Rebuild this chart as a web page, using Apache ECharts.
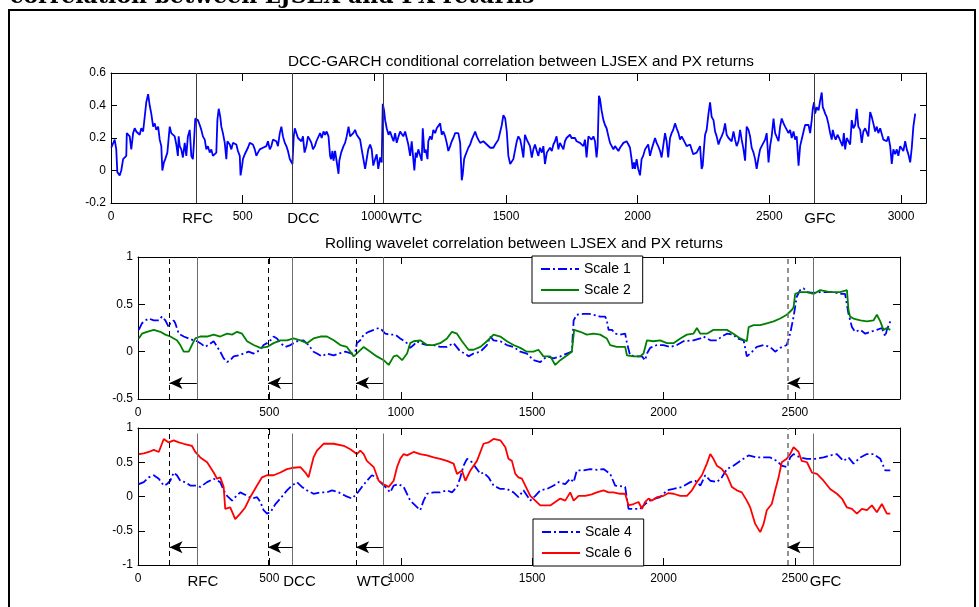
<!DOCTYPE html>
<html><head><meta charset="utf-8">
<script src="https://cdn.jsdelivr.net/npm/echarts@6/dist/echarts.min.js"></script>
<style>html,body{margin:0;padding:0;background:#fff}#c{width:979px;height:607px}</style>
</head><body><div id="c"></div>
<script>
// ---------------- DATA ----------------
const crisisNames = ['RFC', 'DCC', 'WTC', 'GFC'];
const dccBreaks = [325, 689, 1034, 2670];      // crisis lines, DCC-GARCH panel
const waveBreaks = [224, 588, 932, 2571];      // crisis lines, wavelet panels
const waveLeads = [120, 495, 830, 2472];       // leading (dashed) lines, wavelet panels
const arrowLevelMid = -0.33;
const arrowLevelBot = -0.74;
const solidTopBot = 0.92;

const dccCorr = [
[1,.14],[14,.19],[20,.13],[24,-.01],[33,-.03],[39,.00],[46,.07],[52,.08],[58,.09],[60,.23],[65,.23],[71,.21],[77,.13],[84,.23],[90,.26],[96,.24],[103,.25],[109,.22],[115,.26],[122,.24],[128,.23],[134,.42],[141,.47],[147,.40],[153,.35],[160,.27],[166,.29],[172,.25],[179,.27],[185,.19],[191,.15],[195,.00],[201,.05],[206,.07],[214,.11],[223,.27],[229,.23],[235,.23],[242,.21],[248,.16],[254,.09],[257,.21],[261,.15],[267,.13],[273,.08],[280,.17],[286,.09],[292,.21],[299,.25],[305,.09],[311,.07],[315,.17],[320,.32],[324,.33],[330,.31],[337,.28],[343,.25],[349,.21],[356,.19],[362,.13],[368,.15],[375,.11],[381,.13],[387,.09],[394,.08],[400,.11],[404,.31],[409,.38],[415,.33],[419,.27],[425,.23],[432,.17],[438,.07],[442,.18],[451,.16],[457,.13],[463,.17],[470,.18],[476,.16],[482,.12],[489,.09],[492,-.03],[498,.03],[501,.07],[508,.10],[514,.12],[520,.14],[527,.17],[533,.18],[539,.16],[546,.13],[552,.09],[558,.11],[565,.13],[571,.12],[577,.14],[584,.15],[590,.15],[596,.18],[603,.13],[609,.15],[615,.19],[622,.20],[628,.18],[634,.15],[641,.23],[647,.27],[653,.21],[660,.17],[666,.15],[672,.12],[679,.07],[685,.08],[689,.04],[694,.21],[698,.26],[704,.23],[710,.20],[717,.21],[723,.18],[729,.21],[735,.11],[742,.15],[748,.21],[755,.19],[761,.17],[767,.13],[774,.15],[780,.18],[786,.17],
[794,.23],[800,.20],[807,.24],[813,.22],[819,.24],[826,.21],[832,.09],[836,.07],[841,.12],[845,.06],[851,.12],[857,.13],[864,-.02],[867,.06],[874,.11],[883,.15],[889,.17],[895,.21],[902,.27],[908,.21],[914,.20],[920,.23],[927,.25],[933,.22],[940,.21],[946,.19],[952,.13],[958,.12],[965,.01],[971,.07],[977,.13],[984,.16],[990,.13],[996,.03],[1003,.07],[1009,.10],[1015,.01],[1022,.08],[1028,.05],[1032,.41],[1037,.37],[1041,.31],[1047,.26],[1054,.22],[1060,.24],[1066,.21],[1073,.18],[1079,.23],[1085,.17],[1092,.21],[1098,.24],[1104,.23],[1110,.21],[1117,.24],[1123,.23],[1129,.16],[1136,.09],[1142,.18],[1148,.07],[1152,.00],[1157,.11],[1161,.08],[1167,.13],[1174,.14],[1180,.06],[1184,.26],[1190,.11],[1195,.13],[1202,.07],[1205,.18],[1212,.21],[1218,.19],[1224,.25],[1231,.23],[1237,.26],[1243,.27],[1250,.29],[1256,.22],[1262,.24],[1269,.21],[1275,.17],[1281,.12],[1288,.15],[1294,.18],[1300,.20],[1307,.23],[1313,.22],[1319,.23],[1326,.17],[1332,-.06],[1336,-.02],[1341,.07],[1345,.09],[1351,.10],[1357,.14],[1364,.16],[1370,.19],[1376,.18],[1383,.24],[1389,.21],[1395,.19],[1402,.17],[1408,.18],[1414,.18],[1421,.17],[1427,.16],[1433,.15],[1440,.14],[1446,.13],[1452,.14],[1459,.16],[1465,.15],[1471,.19],[1478,.20],[1484,.28],[1490,.34],[1497,.32],[1503,.24],[1509,.09],[1516,.04],[1522,.05],[1528,.07],[1535,.13],[1541,.18],[1547,.21],[1554,.19],
[1559,.15],[1566,.08],[1572,.22],[1579,.19],[1585,.20],[1591,.15],[1598,.08],[1604,.13],[1610,.16],[1617,.12],[1623,.09],[1629,.14],[1636,.11],[1642,.15],[1648,.04],[1655,.11],[1661,.10],[1667,.14],[1674,.12],[1680,.16],[1686,.18],[1692,.21],[1699,.13],[1705,.17],[1711,.16],[1718,.13],[1724,.18],[1730,.20],[1737,.19],[1743,.22],[1749,.20],[1756,.19],[1762,.20],[1768,.18],[1775,.19],[1781,.17],[1787,.18],[1794,.15],[1800,.19],[1806,.08],[1813,.21],[1819,.20],[1825,.19],[1832,.21],[1838,.18],[1844,.08],[1848,.15],[1853,.46],[1857,.44],[1863,.37],[1870,.31],[1876,.28],[1882,.26],[1889,.21],[1895,.17],[1901,.18],[1908,.13],[1914,.15],[1920,.14],[1927,.12],[1933,.14],[1939,.15],[1946,.17],[1952,.16],[1958,.18],[1965,.16],[1971,.14],[1977,.07],[1981,.01],[1986,.05],[1990,.01],[1996,.07],[2002,.01],[2009,-.03],[2015,.07],[2021,.09],[2028,.13],[2034,.14],[2040,.16],[2047,.09],[2053,.13],[2059,.14],[2066,.20],[2072,.17],[2078,.15],[2085,.12],[2091,.08],[2097,.15],[2104,.23],[2110,.18],[2116,.08],[2123,.20],[2129,.23],[2135,.25],[2142,.29],[2148,.26],[2155,.23],[2161,.19],[2167,.21],[2174,.21],[2180,.17],[2186,.15],[2193,.16],[2199,.16],[2205,.15],[2211,.10],[2218,.09],[2224,.11],[2230,.11],[2237,.15],[2243,.01],[2247,.03],[2252,.14],[2256,.22],[2262,.25],[2269,.35],[2275,.42],[2281,.33],[2288,.31],[2294,.24],[2300,.21],[2307,.16],[2313,.19],[2319,.21],[2326,.24],[2332,.29],[2338,.22],[2345,.20],[2351,.19],
[2357,.18],[2364,.24],[2370,.19],[2376,.15],[2383,.18],[2389,.25],[2395,.19],[2402,.13],[2408,.06],[2414,.27],[2421,.25],[2427,.21],[2433,.14],[2440,.11],[2446,.07],[2452,.01],[2459,.08],[2465,.13],[2471,.15],[2478,.16],[2484,.19],[2490,.23],[2497,.05],[2503,.15],[2509,.21],[2516,.32],[2522,.23],[2528,.22],[2535,.18],[2541,.27],[2547,.32],[2554,.29],[2560,.27],[2566,.28],[2573,.23],[2579,.25],[2585,.20],[2592,.24],[2598,.19],[2604,.21],[2611,.03],[2617,.15],[2623,.16],[2630,.24],[2636,.28],[2642,.27],[2649,.28],[2655,.23],[2661,.31],[2665,.38],[2670,.42],[2674,.35],[2680,.39],[2687,.37],[2693,.43],[2699,.48],[2703,.39],[2708,.37],[2712,.35],[2718,.33],[2724,.29],[2731,.23],[2737,.19],[2741,.25],[2747,.21],[2752,.19],[2759,.22],[2765,.20],[2771,.19],[2778,.15],[2783,.23],[2788,.13],[2794,.20],[2800,.19],[2807,.16],[2813,.31],[2819,.26],[2826,.28],[2832,.38],[2838,.27],[2845,.25],[2851,.17],[2857,.24],[2864,.26],[2870,.25],[2876,.21],[2883,.36],[2889,.33],[2895,.29],[2902,.24],[2908,.27],[2914,.23],[2921,.26],[2927,.25],[2933,.19],[2940,.20],[2946,.18],[2952,.21],[2959,.15],[2965,.04],[2971,.13],[2978,.10],[2984,.13],[2990,.09],[2997,.15],[3003,.14],[3009,.12],[3016,.18],[3022,.13],[3028,.10],[3035,.05],[3041,.14],[3047,.27],[3054,.35]
];

const scale1 = [
[3,.23],[15,.30],[28,.33],[41,.35],[60,.33],[79,.33],[91,.37],[104,.33],[117,.26],[123,.30],[136,.33],[142,.30],[155,.19],[174,.16],[193,.14],[212,.12],[225,.11],[237,.09],[256,.05],[288,.11],[313,.00],[326,-.07],[339,-.11],[351,-.09],[364,-.05],[383,-.04],[402,-.02],[421,.00],[440,-.02],[466,.02],[478,.07],[491,.09],[504,.12],[516,.16],[529,.14],[542,.09],[561,.05],[580,.07],[605,.11],[630,.12],[649,.07],[668,.00],[681,-.02],[700,-.05],[719,-.02],[745,-.04],[764,-.02],[789,.00],[814,-.02],[827,.00],[833,.09],[846,.12],[859,.18],[878,.21],[897,.23],[916,.25],[928,.23],[941,.19],[960,.18],[979,.18],[998,.14],[1024,.09],[1036,.04],[1049,.07],[1062,.11],[1074,.09],[1100,.07],[1125,.07],[1150,.05],[1176,.05],[1201,.09],[1227,.00],[1246,-.02],[1258,-.05],[1277,-.02],[1303,.00],[1328,.07],[1341,.16],[1353,.12],[1379,.11],[1404,.07],[1429,.05],[1455,.00],[1480,-.02],[1505,-.09],[1531,-.11],[1556,-.05],[1582,-.07],[1607,-.05],[1632,-.02],[1651,.00],[1658,.33],[1670,.39],[1696,.40],[1715,.40],[1734,.39],[1759,.37],[1778,.37],[1784,.33],[1791,.23],[1804,.23],[1816,.19],[1835,.18],[1854,.19],[1861,.09],[1873,-.04],[1899,-.05],[1918,-.05],[1930,-.09],[1937,-.02],[1949,.04],[1975,.07],[2000,.07],[2026,.05],[2051,.07],[2076,.11],[2114,.12],[2140,.14],[2152,.16],[2178,.12],[2203,.12],[2222,.16],[2241,.19],[2266,.18],[2279,.14],[2305,.12],[2317,-.05],[2330,-.02],[2355,.05],[2381,.07],[2406,.05],[2425,.00],[2444,.04],[2469,.07],[2482,.19],[2495,.37],[2507,.58],[2520,.65],[2533,.67],[2546,.63],[2571,.62],[2596,.63],[2622,.63],[2647,.63],[2672,.61],[2691,.61],[2704,.40],[2717,.26],[2729,.21],[2749,.23],[2768,.19],[2787,.21],[2812,.23],[2831,.25],[2844,.16],[2850,.23],[2863,.32]
];

const scale2 = [
[3,.14],[15,.19],[34,.21],[60,.23],[85,.21],[104,.18],[123,.16],[136,.14],[148,.12],[161,.07],[174,.00],[193,.00],[205,.07],[218,.14],[237,.16],[263,.16],[288,.18],[313,.16],[339,.19],[358,.18],[377,.21],[396,.19],[415,.11],[440,.07],[466,.04],[491,.05],[516,.09],[542,.12],[567,.12],[592,.14],[618,.12],[643,.09],[668,.14],[694,.16],[719,.16],[745,.12],[770,.07],[795,.05],[821,-.05],[840,.00],[859,.05],[884,.00],[909,-.05],[935,-.09],[954,-.14],[973,-.05],[986,-.04],[1005,-.09],[1024,-.02],[1036,.09],[1049,.11],[1074,.12],[1100,.07],[1125,.07],[1150,.09],[1176,.14],[1195,.21],[1214,.19],[1233,.11],[1258,.02],[1277,.02],[1303,.05],[1328,.11],[1353,.18],[1379,.16],[1404,.11],[1429,.07],[1455,.04],[1480,.00],[1505,.00],[1524,.02],[1531,.04],[1543,-.05],[1569,-.05],[1588,-.14],[1607,-.09],[1632,-.04],[1651,.00],[1660,.23],[1683,.21],[1708,.18],[1734,.19],[1759,.18],[1784,.14],[1797,.07],[1822,.05],[1854,.05],[1861,-.04],[1886,-.05],[1911,-.05],[1924,-.02],[1937,.12],[1962,.11],[1987,.12],[2013,.09],[2038,.09],[2064,.14],[2089,.18],[2114,.19],[2127,.25],[2140,.19],[2165,.19],[2190,.23],[2216,.23],[2241,.23],[2266,.19],[2292,.14],[2317,.11],[2324,.26],[2343,.28],[2368,.28],[2393,.30],[2419,.32],[2444,.35],[2469,.39],[2488,.44],[2495,.47],[2501,.61],[2520,.63],[2546,.63],[2571,.61],[2596,.65],[2634,.63],[2672,.63],[2698,.65],[2704,.44],[2710,.37],[2723,.35],[2749,.33],[2774,.32],[2799,.33],[2812,.39],[2825,.32],[2837,.23],[2850,.25],[2863,.23]
];

const scale4 = [
[3,.18],[22,.21],[41,.28],[60,.31],[79,.26],[98,.16],[110,.18],[123,.23],[136,.35],[148,.31],[161,.23],[180,.21],[199,.16],[218,.16],[237,.14],[263,.21],[288,.26],[313,.21],[326,.09],[339,.01],[358,-.06],[370,-.01],[389,.06],[415,.01],[434,-.03],[453,-.01],[466,-.08],[478,-.20],[491,-.25],[504,-.23],[523,-.11],[542,-.03],[567,.09],[586,.16],[605,.21],[624,.14],[643,.09],[668,.04],[694,.06],[719,.06],[738,.09],[764,.06],[789,.01],[814,-.03],[833,.04],[852,.14],[871,.23],[890,.31],[909,.28],[922,.21],[941,.14],[960,.06],[973,.16],[992,.18],[1011,.14],[1036,-.06],[1055,-.13],[1074,-.20],[1087,-.06],[1100,.04],[1125,.06],[1150,.06],[1176,.09],[1195,.06],[1214,.14],[1227,.28],[1239,.45],[1252,.55],[1271,.50],[1290,.40],[1303,.33],[1315,.35],[1334,.28],[1353,.16],[1379,.11],[1404,.11],[1429,.06],[1448,-.01],[1467,.09],[1493,-.06],[1512,.01],[1531,.09],[1556,.11],[1582,.16],[1601,.21],[1626,.18],[1645,.26],[1658,.21],[1670,.38],[1696,.38],[1721,.40],[1746,.39],[1772,.40],[1797,.33],[1816,.16],[1835,.15],[1854,.14],[1867,-.18],[1886,-.18],[1911,-.18],[1930,-.11],[1949,-.06],[1968,-.03],[1987,-.01],[2013,.09],[2038,.11],[2070,.14],[2102,.21],[2121,.23],[2140,.16],[2159,.31],[2178,.23],[2203,.21],[2222,.28],[2241,.40],[2266,.45],[2292,.52],[2324,.60],[2355,.57],[2381,.57],[2406,.57],[2431,.52],[2450,.45],[2469,.43],[2482,.57],[2495,.62],[2520,.57],[2546,.55],[2577,.55],[2609,.57],[2634,.60],[2660,.62],[2685,.52],[2704,.57],[2723,.48],[2749,.57],[2774,.62],[2799,.62],[2825,.55],[2844,.38],[2863,.38]
];

const scale6 = [
[3,.62],[22,.63],[41,.65],[60,.68],[79,.65],[98,.84],[117,.79],[136,.82],[155,.79],[174,.77],[205,.74],[218,.65],[237,.57],[263,.50],[288,.35],[301,.26],[313,.28],[326,.14],[332,-.18],[351,-.16],[370,-.33],[389,-.25],[408,-.16],[427,-.01],[453,.16],[472,.28],[491,.31],[516,.31],[542,.35],[567,.40],[592,.42],[618,.43],[637,.35],[649,.28],[668,.57],[681,.67],[706,.77],[745,.77],[783,.74],[808,.69],[833,.62],[846,.67],[859,.62],[871,.52],[897,.43],[916,.23],[935,.18],[954,.14],[973,.23],[986,.43],[998,.55],[1011,.62],[1024,.60],[1049,.65],[1074,.62],[1100,.60],[1125,.57],[1150,.55],[1176,.52],[1201,.48],[1214,.33],[1233,.38],[1246,.23],[1265,.38],[1290,.52],[1315,.77],[1334,.79],[1353,.84],[1379,.82],[1398,.72],[1410,.55],[1423,.52],[1436,.33],[1448,.28],[1461,.26],[1474,.16],[1493,.01],[1512,-.06],[1531,-.13],[1569,-.13],[1588,-.08],[1607,-.03],[1626,-.06],[1645,.06],[1658,-.06],[1677,.01],[1702,.01],[1727,.03],[1746,.06],[1772,.09],[1791,.06],[1810,.06],[1835,.04],[1854,.04],[1867,-.13],[1886,-.11],[1905,-.08],[1918,-.18],[1930,-.08],[1943,-.03],[1956,-.06],[1975,-.01],[2000,.01],[2019,.05],[2038,.04],[2064,.01],[2089,.01],[2108,.09],[2127,.21],[2146,.31],[2165,.48],[2178,.62],[2190,.55],[2203,.45],[2222,.40],[2241,.31],[2260,.14],[2279,.09],[2298,.06],[2317,-.06],[2330,-.16],[2349,-.40],[2368,-.52],[2381,-.40],[2393,-.20],[2412,-.11],[2425,.09],[2438,.28],[2450,.50],[2469,.55],[2482,.62],[2495,.72],[2501,.74],[2514,.65],[2526,.52],[2546,.50],[2565,.35],[2584,.33],[2609,.23],[2634,.11],[2660,.04],[2679,-.03],[2698,-.16],[2717,-.18],[2736,-.25],[2755,-.18],[2774,-.20],[2793,-.13],[2812,-.23],[2831,-.11],[2850,-.25],[2863,-.25]
];

// ---------------- STYLE / LAYOUT ----------------
const FONT = '"Liberation Sans", Arial, Helvetica, sans-serif';
const chart = echarts.init(document.getElementById('c'), null, {renderer: 'canvas'});

function fmtNum(v) { return String(+(+v).toFixed(2)); }

function xAxisPair(grid, max, tickLen, margin) {
  const base = {
    gridIndex: grid, type: 'value', min: 0, max: max, interval: 500,
    splitLine: {show: false},
    axisLine: {show: true, onZero: false, lineStyle: {color: '#000', width: 1}},
    axisTick: {show: true, inside: true, length: tickLen, lineStyle: {color: '#000', width: 1}}
  };
  return [
    Object.assign({}, base, {position: 'bottom',
      axisLabel: {show: true, color: '#000', fontSize: 12, fontFamily: FONT, margin: margin,
        formatter: v => (v % 500 === 0 ? String(v) : ''), showMaxLabel: false}}),
    Object.assign({}, base, {position: 'top', axisLabel: {show: false}})
  ];
}
function yAxisPair(grid, min, max, interval, tickLen) {
  const base = {
    gridIndex: grid, type: 'value', min: min, max: max, interval: interval,
    splitLine: {show: false},
    axisLine: {show: true, onZero: false, lineStyle: {color: '#000', width: 1}},
    axisTick: {show: true, inside: true, length: tickLen, lineStyle: {color: '#000', width: 1}}
  };
  return [
    Object.assign({}, base, {position: 'left',
      axisLabel: {show: true, color: '#000', fontSize: 12, fontFamily: FONT, margin: 5, formatter: fmtNum}}),
    Object.assign({}, base, {position: 'right', axisLabel: {show: false}})
  ];
}

function vLine(x, y0, y1, color, type, width) {
  return [
    {coord: [x, y0], symbol: 'none', lineStyle: {color: color, type: type, width: width}},
    {coord: [x, y1], symbol: 'none'}
  ];
}
function arrow(x0, x1, y) {
  return [
    {coord: [x0, y], symbol: 'none', lineStyle: {color: '#000', type: 'solid', width: 1}},
    {coord: [x1, y], symbol: 'arrow', symbolSize: [9, 13]}
  ];
}
function markLines(items) {
  return {silent: true, animation: false, symbol: ['none', 'none'], label: {show: false},
    emphasis: {disabled: true}, data: items};
}

const topLines = dccBreaks.map(x => vLine(x, -0.2, 0.6, '#3a3a3a', 'solid', 1));
const midLines = [].concat(
  waveBreaks.map(x => vLine(x, -0.5, 1, '#6e6e6e', 'solid', 1)),
  waveLeads.map((x, i) => vLine(x, -0.5, 1, i === 3 ? '#777' : '#000', [5, 4], i === 3 ? 1.6 : 1)),
  waveBreaks.map((x, i) => arrow(x, waveLeads[i], arrowLevelMid))
);
const botLines = [].concat(
  waveBreaks.map(x => vLine(x, -1, solidTopBot, '#6e6e6e', 'solid', 1)),
  waveLeads.map((x, i) => vLine(x, -1, 1, i === 3 ? '#777' : '#000', [5, 4], i === 3 ? 1.6 : 1)),
  waveBreaks.map((x, i) => arrow(x, waveLeads[i], arrowLevelBot))
);

const dashDot = [9, 3, 2, 3];
const legendBase = {
  orient: 'vertical', itemWidth: 38, itemHeight: 14, itemGap: 7,
  padding: [6, 12, 6, 8], borderColor: '#000', borderWidth: 1, borderRadius: 0, backgroundColor: '#fff',
  itemStyle: {color: 'rgba(0,0,0,0)', borderWidth: 0, opacity: 0},
  textStyle: {fontSize: 14, color: '#000', fontFamily: FONT}, selectedMode: false, z: 10
};

const option = {
  animation: false,
  backgroundColor: '#fff',
  title: [
    {text: 'DCC-GARCH conditional correlation between LJSEX and PX returns', left: 283, top: 49,
     textStyle: {fontSize: 15.3, fontWeight: 'normal', color: '#000', fontFamily: FONT}},
    {text: 'Rolling wavelet correlation between LJSEX and PX returns', left: 320, top: 231,
     textStyle: {fontSize: 15.3, fontWeight: 'normal', color: '#000', fontFamily: FONT}}
  ],
  grid: [
    {left: 111, top: 73, width: 815, height: 130, containLabel: false, outerBoundsMode: 'none'},
    {left: 138, top: 257, width: 762, height: 142, containLabel: false, outerBoundsMode: 'none'},
    {left: 138, top: 428, width: 762, height: 137, containLabel: false, outerBoundsMode: 'none'}
  ],
  xAxis: [].concat(xAxisPair(0, 3095, 8, 8), xAxisPair(1, 2900, 7, 7.5), xAxisPair(2, 2900, 7, 8)),
  yAxis: [].concat(yAxisPair(0, -0.2, 0.6, 0.2, 6), yAxisPair(1, -0.5, 1, 0.5, 7), yAxisPair(2, -1, 1, 0.5, 7)),
  legend: [
    Object.assign({}, legendBase, {data: ['Scale 1', 'Scale 2'], left: 532, top: 256}),
    Object.assign({}, legendBase, {data: ['Scale 4', 'Scale 6'], left: 533, top: 519})
  ],
  series: [
    {name: 'DCC', type: 'line', xAxisIndex: 0, yAxisIndex: 0, data: dccCorr, symbol: 'none', showSymbol: false,
     lineStyle: {color: '#0000ff', width: 1.8}, itemStyle: {color: '#0000ff'}, z: 3, markLine: markLines(topLines)},
    {name: 'Scale 1', type: 'line', xAxisIndex: 2, yAxisIndex: 2, data: scale1, symbol: 'none', showSymbol: false,
     lineStyle: {color: '#0000ff', width: 1.8, type: dashDot}, itemStyle: {color: '#0000ff'}, z: 3, markLine: markLines(midLines)},
    {name: 'Scale 2', type: 'line', xAxisIndex: 2, yAxisIndex: 2, data: scale2, symbol: 'none', showSymbol: false,
     lineStyle: {color: '#008000', width: 1.8}, itemStyle: {color: '#008000'}, z: 4},
    {name: 'Scale 4', type: 'line', xAxisIndex: 4, yAxisIndex: 4, data: scale4, symbol: 'none', showSymbol: false,
     lineStyle: {color: '#0000ff', width: 1.8, type: dashDot}, itemStyle: {color: '#0000ff'}, z: 3, markLine: markLines(botLines)},
    {name: 'Scale 6', type: 'line', xAxisIndex: 4, yAxisIndex: 4, data: scale6, symbol: 'none', showSymbol: false,
     lineStyle: {color: '#ff0000', width: 1.8}, itemStyle: {color: '#ff0000'}, z: 4}
  ]
};
chart.setOption(option);

// crisis labels under the axes, positioned from the axis scales
const topShift = [1, 11, 22, 6];
const botShift = [6, 7, -9, 12];
const graphics = [
  {type: 'rect', shape: {x: 9, y: 10, width: 966, height: 640}, style: {fill: 'none', stroke: '#000', lineWidth: 2}, silent: true, z: 0},
  {type: 'text', x: 10, y: -14, style: {text: 'correlation between LJSEX and PX returns', font: 'bold 22px "DejaVu Serif"', fill: '#000', verticalAlign: 'top'}, silent: true}
];
crisisNames.forEach((name, i) => {
  const p = chart.convertToPixel({xAxisIndex: 0, yAxisIndex: 0}, [dccBreaks[i], -0.2]);
  graphics.push({type: 'text', x: p[0] + topShift[i], y: p[1] + 16,
    style: {text: name, font: '15px ' + FONT, fill: '#000', align: 'center', verticalAlign: 'middle'}, silent: true});
  const q = chart.convertToPixel({xAxisIndex: 4, yAxisIndex: 4}, [waveBreaks[i], -1]);
  graphics.push({type: 'text', x: q[0] + botShift[i], y: q[1] + 17,
    style: {text: name, font: '15px ' + FONT, fill: '#000', align: 'center', verticalAlign: 'middle'}, silent: true});
});
chart.setOption({graphic: graphics});
</script></body></html>
